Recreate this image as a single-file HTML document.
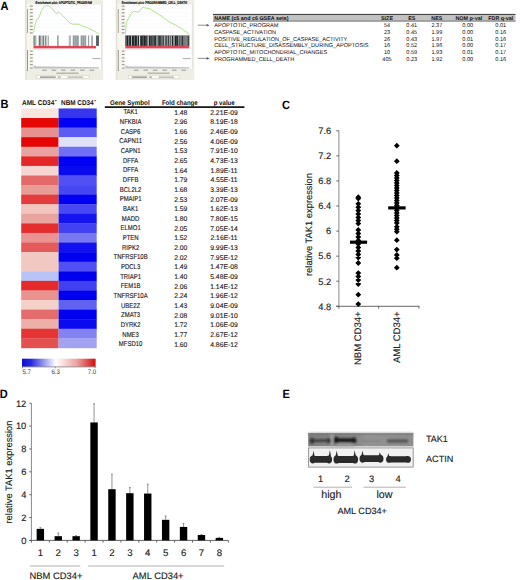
<!DOCTYPE html>
<html><head><meta charset="utf-8"><style>
html,body{margin:0;padding:0;background:#fff;}
svg{display:block;}
text{font-family:"Liberation Sans", sans-serif;text-rendering:geometricPrecision;}
</style></head><body>
<svg width="520" height="580" viewBox="0 0 520 580">
<rect width="520" height="580" fill="#fff"/>
<text x="0.00" y="0.00" font-size="12.0" text-anchor="start" font-weight="bold" fill="#000" transform="translate(0.5 9.9) scale(0.92 1)">A</text>
<text x="0.00" y="0.00" font-size="12.0" text-anchor="start" font-weight="bold" fill="#000" transform="translate(0.5 107.9) scale(0.92 1)">B</text>
<text x="0.00" y="0.00" font-size="12.0" text-anchor="start" font-weight="bold" fill="#000" transform="translate(282.1 108.5) scale(0.92 1)">C</text>
<text x="0.00" y="0.00" font-size="12.0" text-anchor="start" font-weight="bold" fill="#000" transform="translate(-0.2 398.0) scale(0.92 1)">D</text>
<text x="0.00" y="0.00" font-size="12.0" text-anchor="start" font-weight="bold" fill="#000" transform="translate(282.6 397.8) scale(0.92 1)">E</text>
<rect x="25.1" y="0" width="78.1" height="80" fill="#efeee4"/>
<rect x="25.1" y="0" width="1.6" height="80" fill="#e3e1d2"/>
<rect x="26.700000000000003" y="3.6" width="6.799999999999999" height="66" fill="#f7f6ee"/>
<text x="35.60" y="4.10" font-size="3.9" text-anchor="start" font-weight="bold" fill="#000" stroke="#000" stroke-width="0.12" textLength="56.2" lengthAdjust="spacingAndGlyphs">Enrichment plot: APOPTOTIC_PROGRAM</text>
<rect x="33.5" y="4.6" width="68.3" height="64" fill="#ffffff"/>
<rect x="101.2" y="4.6" width="0.6" height="64" fill="#d0d0cc"/>
<rect x="27.1" y="9" width="0.9" height="24" fill="#9a9a92"/>
<rect x="27.1" y="50" width="0.9" height="21" fill="#8a8a82"/>
<rect x="29.9" y="5.6" width="2.8" height="1.0" fill="#8c8c86"/>
<rect x="29.9" y="8.9" width="2.8" height="1.0" fill="#8c8c86"/>
<rect x="29.9" y="12.3" width="2.8" height="1.0" fill="#8c8c86"/>
<rect x="29.9" y="15.7" width="2.8" height="1.0" fill="#8c8c86"/>
<rect x="29.9" y="19.0" width="2.8" height="1.0" fill="#8c8c86"/>
<rect x="29.9" y="22.4" width="2.8" height="1.0" fill="#8c8c86"/>
<rect x="29.9" y="25.7" width="2.8" height="1.0" fill="#8c8c86"/>
<rect x="29.9" y="29.0" width="2.8" height="1.0" fill="#8c8c86"/>
<rect x="29.9" y="32.4" width="2.8" height="1.0" fill="#8c8c86"/>
<rect x="30.1" y="50.6" width="2.6" height="1.0" fill="#8c8c86"/>
<rect x="30.1" y="54.0" width="2.6" height="1.0" fill="#8c8c86"/>
<rect x="30.1" y="57.4" width="2.6" height="1.0" fill="#8c8c86"/>
<rect x="30.1" y="60.8" width="2.6" height="1.0" fill="#8c8c86"/>
<rect x="30.1" y="64.2" width="2.6" height="1.0" fill="#8c8c86"/>
<rect x="30.1" y="67.6" width="2.6" height="1.0" fill="#8c8c86"/>
<line x1="33.5" y1="8.8" x2="99.0" y2="8.8" stroke="#f3f4f8" stroke-width="0.5"/>
<line x1="33.5" y1="12.5" x2="99.0" y2="12.5" stroke="#f3f4f8" stroke-width="0.5"/>
<line x1="33.5" y1="16.2" x2="99.0" y2="16.2" stroke="#f3f4f8" stroke-width="0.5"/>
<line x1="33.5" y1="20.0" x2="99.0" y2="20.0" stroke="#f3f4f8" stroke-width="0.5"/>
<line x1="33.5" y1="23.8" x2="99.0" y2="23.8" stroke="#f3f4f8" stroke-width="0.5"/>
<line x1="33.5" y1="27.5" x2="99.0" y2="27.5" stroke="#f3f4f8" stroke-width="0.5"/>
<line x1="33.5" y1="31.2" x2="99.0" y2="31.2" stroke="#f3f4f8" stroke-width="0.5"/>
<polyline points="33.5,32.5 34.8,26.0 36.4,20.0 39.0,17.3 41.6,10.4 44.2,6.2 46.5,5.6 49.4,6.0 52.9,9.5 56.3,13.6 58.9,12.1 61.5,14.7 65.8,19.0 70.2,23.2 72.8,24.2 78.8,24.2 82.3,26.0 87.5,27.7 92.7,30.3 96.5,32.5 99.0,34.0" fill="none" stroke="#a6e27e" stroke-width="0.9" stroke-linejoin="round"/>
<rect x="33.5" y="35.5" width="65.5" height="10.4" fill="#ffffff"/>
<rect x="33.3" y="35.5" width="2.4" height="10.4" fill="#8c9492"/>
<rect x="38.7" y="35.5" width="2.0" height="10.4" fill="#6c7474"/>
<rect x="42.4" y="35.5" width="1.7" height="10.4" fill="#7a8282"/>
<rect x="44.8" y="35.5" width="1.7" height="10.4" fill="#869090"/>
<rect x="47.8" y="35.5" width="1.0" height="10.4" fill="#9aa2a2"/>
<rect x="57.2" y="35.5" width="1.4" height="10.4" fill="#8a9292"/>
<rect x="68.7" y="35.5" width="2.3" height="10.4" fill="#b4baba"/>
<rect x="72.7" y="35.5" width="6.1" height="10.4" fill="#aab2b2"/>
<rect x="80.5" y="35.5" width="5.7" height="10.4" fill="#acb4b4"/>
<rect x="87.9" y="35.5" width="1.3" height="10.4" fill="#9aa2a2"/>
<rect x="91.2" y="35.5" width="1.7" height="10.4" fill="#a0a8a8"/>
<rect x="96.0" y="35.5" width="3.0" height="10.4" fill="#5c6464"/>
<rect x="73.4" y="35.5" width="0.7" height="10.4" fill="#7e8686"/>
<rect x="75.6" y="35.5" width="0.7" height="10.4" fill="#848c8c"/>
<rect x="77.6" y="35.5" width="0.7" height="10.4" fill="#7e8686"/>
<rect x="81.4" y="35.5" width="0.7" height="10.4" fill="#848c8c"/>
<rect x="83.4" y="35.5" width="0.7" height="10.4" fill="#7e8686"/>
<rect x="85.3" y="35.5" width="0.7" height="10.4" fill="#8a9292"/>
<rect x="36.3" y="35.5" width="0.8" height="10.4" fill="#c8d0cc"/>
<rect x="41.0" y="35.5" width="0.9" height="10.4" fill="#c0c8c4"/>
<rect x="46.6" y="35.5" width="0.9" height="10.4" fill="#c8d0cc"/>
<rect x="33.5" y="45.9" width="62.5" height="2.5" fill="#dc4657"/>
<rect x="33.5" y="48.4" width="23" height="0.9" fill="#f3b6bf"/>
<defs><linearGradient id="lg25" x1="0" x2="0" y1="0" y2="1"><stop offset="0" stop-color="#d8d8dc"/><stop offset="1" stop-color="#b8b8bc"/></linearGradient></defs>
<path d="M33.5,64.8 L36.5,66.2 L99.0,67.2 L99.0,68.6 L33.5,68.6 Z" fill="url(#lg25)"/>
<rect x="92.5" y="58.0" width="8" height="1.1" fill="#b4b4b0"/>
<rect x="42.1" y="69.6" width="4.6" height="1.2" fill="#a6a69c"/>
<rect x="51.6" y="69.6" width="4.6" height="1.2" fill="#a6a69c"/>
<rect x="61.1" y="69.6" width="4.6" height="1.2" fill="#a6a69c"/>
<rect x="70.6" y="69.6" width="4.6" height="1.2" fill="#a6a69c"/>
<rect x="80.1" y="69.6" width="4.6" height="1.2" fill="#a6a69c"/>
<rect x="89.6" y="69.6" width="4.6" height="1.2" fill="#a6a69c"/>
<rect x="56.4" y="72.6" width="22.3" height="1.2" fill="#aaaaa0"/>
<rect x="36.7" y="75.4" width="52.4" height="3.2" fill="#fbfbf8" stroke="#cfcdbf" stroke-width="0.5"/>
<rect x="40.0" y="76.6" width="15.7" height="1.0" fill="#6e6e6e"/>
<rect x="57.7" y="76.6" width="3" height="1.0" fill="#8e8e8e"/>
<rect x="67.5" y="76.6" width="15.7" height="1.0" fill="#a0a0a0"/>
<rect x="115.8" y="0" width="78.50000000000001" height="80" fill="#efeee4"/>
<rect x="115.8" y="0" width="1.6" height="80" fill="#e3e1d2"/>
<rect x="117.39999999999999" y="3.6" width="7.9" height="66" fill="#f7f6ee"/>
<text x="121.80" y="4.10" font-size="3.9" text-anchor="start" font-weight="bold" fill="#000" stroke="#000" stroke-width="0.12" textLength="65.2" lengthAdjust="spacingAndGlyphs">Enrichment plot: PROGRAMMED_CELL_DEATH</text>
<rect x="125.3" y="4.6" width="67.2" height="64" fill="#ffffff"/>
<rect x="191.9" y="4.6" width="0.6" height="64" fill="#d0d0cc"/>
<rect x="117.8" y="9" width="0.9" height="24" fill="#9a9a92"/>
<rect x="117.8" y="50" width="0.9" height="21" fill="#8a8a82"/>
<rect x="121.7" y="5.6" width="2.8" height="1.0" fill="#8c8c86"/>
<rect x="121.7" y="8.9" width="2.8" height="1.0" fill="#8c8c86"/>
<rect x="121.7" y="12.3" width="2.8" height="1.0" fill="#8c8c86"/>
<rect x="121.7" y="15.7" width="2.8" height="1.0" fill="#8c8c86"/>
<rect x="121.7" y="19.0" width="2.8" height="1.0" fill="#8c8c86"/>
<rect x="121.7" y="22.4" width="2.8" height="1.0" fill="#8c8c86"/>
<rect x="121.7" y="25.7" width="2.8" height="1.0" fill="#8c8c86"/>
<rect x="121.7" y="29.0" width="2.8" height="1.0" fill="#8c8c86"/>
<rect x="121.7" y="32.4" width="2.8" height="1.0" fill="#8c8c86"/>
<rect x="121.89999999999999" y="50.6" width="2.6" height="1.0" fill="#8c8c86"/>
<rect x="121.89999999999999" y="54.0" width="2.6" height="1.0" fill="#8c8c86"/>
<rect x="121.89999999999999" y="57.4" width="2.6" height="1.0" fill="#8c8c86"/>
<rect x="121.89999999999999" y="60.8" width="2.6" height="1.0" fill="#8c8c86"/>
<rect x="121.89999999999999" y="64.2" width="2.6" height="1.0" fill="#8c8c86"/>
<rect x="121.89999999999999" y="67.6" width="2.6" height="1.0" fill="#8c8c86"/>
<line x1="125.3" y1="8.8" x2="189.3" y2="8.8" stroke="#f3f4f8" stroke-width="0.5"/>
<line x1="125.3" y1="12.5" x2="189.3" y2="12.5" stroke="#f3f4f8" stroke-width="0.5"/>
<line x1="125.3" y1="16.2" x2="189.3" y2="16.2" stroke="#f3f4f8" stroke-width="0.5"/>
<line x1="125.3" y1="20.0" x2="189.3" y2="20.0" stroke="#f3f4f8" stroke-width="0.5"/>
<line x1="125.3" y1="23.8" x2="189.3" y2="23.8" stroke="#f3f4f8" stroke-width="0.5"/>
<line x1="125.3" y1="27.5" x2="189.3" y2="27.5" stroke="#f3f4f8" stroke-width="0.5"/>
<line x1="125.3" y1="31.2" x2="189.3" y2="31.2" stroke="#f3f4f8" stroke-width="0.5"/>
<polyline points="125.4,33.7 126.4,22.5 129.0,17.3 131.6,13.0 134.2,11.2 137.7,12.1 140.3,10.4 142.9,6.9 144.6,7.8 149.8,8.7 155.0,12.1 161.9,16.4 168.8,21.6 175.7,25.1 182.7,29.4 189.6,34.6" fill="none" stroke="#a6e27e" stroke-width="0.9" stroke-linejoin="round"/>
<rect x="125.3" y="35.5" width="64.0" height="10.4" fill="#1e2222"/>
<rect x="125.4" y="35.5" width="1.2" height="10.4" fill="#7c8484"/>
<rect x="128.1" y="35.5" width="1.2" height="10.4" fill="#7c8484"/>
<rect x="131.2" y="35.5" width="0.7" height="10.4" fill="#eef0f0"/>
<rect x="133.8" y="35.5" width="1.2" height="10.4" fill="#5c6464"/>
<rect x="136.9" y="35.5" width="0.7" height="10.4" fill="#d0d4d4"/>
<rect x="139.1" y="35.5" width="0.9" height="10.4" fill="#eef0f0"/>
<rect x="140.6" y="35.5" width="0.5" height="10.4" fill="#7c8484"/>
<rect x="142.6" y="35.5" width="1.2" height="10.4" fill="#5c6464"/>
<rect x="145.7" y="35.5" width="0.7" height="10.4" fill="#7c8484"/>
<rect x="147.0" y="35.5" width="0.5" height="10.4" fill="#d0d4d4"/>
<rect x="148.1" y="35.5" width="0.7" height="10.4" fill="#eef0f0"/>
<rect x="150.7" y="35.5" width="0.5" height="10.4" fill="#bcc2c2"/>
<rect x="152.4" y="35.5" width="1.2" height="10.4" fill="#7c8484"/>
<rect x="154.5" y="35.5" width="0.7" height="10.4" fill="#5c6464"/>
<rect x="156.4" y="35.5" width="1.2" height="10.4" fill="#d0d4d4"/>
<rect x="158.2" y="35.5" width="1.2" height="10.4" fill="#5c6464"/>
<rect x="160.6" y="35.5" width="1.2" height="10.4" fill="#7c8484"/>
<rect x="162.4" y="35.5" width="0.9" height="10.4" fill="#9aa2a2"/>
<rect x="164.2" y="35.5" width="0.9" height="10.4" fill="#d0d4d4"/>
<rect x="165.7" y="35.5" width="0.5" height="10.4" fill="#bcc2c2"/>
<rect x="166.8" y="35.5" width="0.9" height="10.4" fill="#bcc2c2"/>
<rect x="168.3" y="35.5" width="0.5" height="10.4" fill="#5c6464"/>
<rect x="169.4" y="35.5" width="0.7" height="10.4" fill="#eef0f0"/>
<rect x="170.7" y="35.5" width="1.2" height="10.4" fill="#bcc2c2"/>
<rect x="173.4" y="35.5" width="1.2" height="10.4" fill="#d0d4d4"/>
<rect x="176.5" y="35.5" width="0.7" height="10.4" fill="#5c6464"/>
<rect x="178.4" y="35.5" width="0.9" height="10.4" fill="#d0d4d4"/>
<rect x="180.5" y="35.5" width="0.9" height="10.4" fill="#d0d4d4"/>
<rect x="182.9" y="35.5" width="0.5" height="10.4" fill="#eef0f0"/>
<rect x="184.3" y="35.5" width="0.5" height="10.4" fill="#d0d4d4"/>
<rect x="185.4" y="35.5" width="1.2" height="10.4" fill="#bcc2c2"/>
<rect x="187.5" y="35.5" width="0.7" height="10.4" fill="#bcc2c2"/>
<rect x="125.3" y="45.9" width="64" height="2.5" fill="#dc4657"/>
<rect x="125.3" y="48.4" width="22" height="0.9" fill="#f3b6bf"/>
<defs><linearGradient id="lg115" x1="0" x2="0" y1="0" y2="1"><stop offset="0" stop-color="#d8d8dc"/><stop offset="1" stop-color="#b8b8bc"/></linearGradient></defs>
<path d="M125.3,64.8 L128.3,66.2 L189.3,67.2 L189.3,68.6 L125.3,68.6 Z" fill="url(#lg115)"/>
<rect x="182.8" y="58.0" width="8" height="1.1" fill="#b4b4b0"/>
<rect x="133.9" y="69.6" width="4.6" height="1.2" fill="#a6a69c"/>
<rect x="143.4" y="69.6" width="4.6" height="1.2" fill="#a6a69c"/>
<rect x="152.9" y="69.6" width="4.6" height="1.2" fill="#a6a69c"/>
<rect x="162.4" y="69.6" width="4.6" height="1.2" fill="#a6a69c"/>
<rect x="171.9" y="69.6" width="4.6" height="1.2" fill="#a6a69c"/>
<rect x="181.4" y="69.6" width="4.6" height="1.2" fill="#a6a69c"/>
<rect x="147.7" y="72.6" width="21.8" height="1.2" fill="#aaaaa0"/>
<rect x="128.5" y="75.4" width="51.2" height="3.2" fill="#fbfbf8" stroke="#cfcdbf" stroke-width="0.5"/>
<rect x="131.8" y="76.6" width="15.4" height="1.0" fill="#6e6e6e"/>
<rect x="149.1" y="76.6" width="3" height="1.0" fill="#8e8e8e"/>
<rect x="158.7" y="76.6" width="15.4" height="1.0" fill="#a0a0a0"/>
<line x1="197.8" y1="25.2" x2="207.5" y2="25.2" stroke="#555" stroke-width="0.65"/>
<path d="M206.6,23.9 L209.6,25.2 L206.6,26.5Z" fill="#555"/>
<line x1="197.8" y1="58.4" x2="207.5" y2="58.4" stroke="#555" stroke-width="0.65"/>
<path d="M206.6,57.1 L209.6,58.4 L206.6,59.699999999999996Z" fill="#555"/>
<rect x="213" y="14.6" width="302.5" height="6.4" fill="#c2c2c2"/>
<rect x="213" y="13.9" width="302.5" height="1.1" fill="#444"/>
<rect x="213" y="20.7" width="302.5" height="0.8" fill="#555"/>
<text x="214.20" y="19.90" font-size="5.4" text-anchor="start" font-weight="bold" fill="#111" >NAME (c5 and c6 GSEA sets)</text>
<text x="387.00" y="19.90" font-size="5.4" text-anchor="middle" font-weight="bold" fill="#111" >SIZE</text>
<text x="411.80" y="19.90" font-size="5.4" text-anchor="middle" font-weight="bold" fill="#111" >ES</text>
<text x="436.90" y="19.90" font-size="5.4" text-anchor="middle" font-weight="bold" fill="#111" >NES</text>
<text x="468.80" y="19.90" font-size="5.4" text-anchor="middle" font-weight="bold" fill="#111" >NOM p-val</text>
<text x="500.80" y="19.90" font-size="5.4" text-anchor="middle" font-weight="bold" fill="#111" >FDR q-val</text>
<text x="214.20" y="27.20" font-size="5.6" text-anchor="start" font-weight="normal" fill="#111" >APOPTOTIC_PROGRAM</text>
<text x="387.00" y="27.20" font-size="5.6" text-anchor="middle" font-weight="normal" fill="#111" >54</text>
<text x="411.80" y="27.20" font-size="5.6" text-anchor="middle" font-weight="normal" fill="#111" >0.41</text>
<text x="436.90" y="27.20" font-size="5.6" text-anchor="middle" font-weight="normal" fill="#111" >2.37</text>
<text x="467.70" y="27.20" font-size="5.6" text-anchor="middle" font-weight="normal" fill="#111" >0.00</text>
<text x="500.80" y="27.20" font-size="5.6" text-anchor="middle" font-weight="normal" fill="#111" >0.01</text>
<text x="214.20" y="33.86" font-size="5.6" text-anchor="start" font-weight="normal" fill="#111" >CASPASE_ACTIVATION</text>
<text x="387.00" y="33.86" font-size="5.6" text-anchor="middle" font-weight="normal" fill="#111" >23</text>
<text x="411.80" y="33.86" font-size="5.6" text-anchor="middle" font-weight="normal" fill="#111" >0.45</text>
<text x="436.90" y="33.86" font-size="5.6" text-anchor="middle" font-weight="normal" fill="#111" >1.99</text>
<text x="467.70" y="33.86" font-size="5.6" text-anchor="middle" font-weight="normal" fill="#111" >0.00</text>
<text x="500.80" y="33.86" font-size="5.6" text-anchor="middle" font-weight="normal" fill="#111" >0.16</text>
<text x="214.20" y="40.52" font-size="5.6" text-anchor="start" font-weight="normal" fill="#111" >POSITIVE_REGULATION_OF_CASPASE_ACTIVITY</text>
<text x="387.00" y="40.52" font-size="5.6" text-anchor="middle" font-weight="normal" fill="#111" >26</text>
<text x="411.80" y="40.52" font-size="5.6" text-anchor="middle" font-weight="normal" fill="#111" >0.43</text>
<text x="436.90" y="40.52" font-size="5.6" text-anchor="middle" font-weight="normal" fill="#111" >1.97</text>
<text x="467.70" y="40.52" font-size="5.6" text-anchor="middle" font-weight="normal" fill="#111" >0.01</text>
<text x="500.80" y="40.52" font-size="5.6" text-anchor="middle" font-weight="normal" fill="#111" >0.16</text>
<text x="214.20" y="47.18" font-size="5.6" text-anchor="start" font-weight="normal" fill="#111" >CELL_STRUCTURE_DISASSEMBLY_DURING_APOPTOSIS</text>
<text x="387.00" y="47.18" font-size="5.6" text-anchor="middle" font-weight="normal" fill="#111" >16</text>
<text x="411.80" y="47.18" font-size="5.6" text-anchor="middle" font-weight="normal" fill="#111" >0.52</text>
<text x="436.90" y="47.18" font-size="5.6" text-anchor="middle" font-weight="normal" fill="#111" >1.96</text>
<text x="467.70" y="47.18" font-size="5.6" text-anchor="middle" font-weight="normal" fill="#111" >0.00</text>
<text x="500.80" y="47.18" font-size="5.6" text-anchor="middle" font-weight="normal" fill="#111" >0.17</text>
<text x="214.20" y="53.84" font-size="5.6" text-anchor="start" font-weight="normal" fill="#111" >APOPTOTIC_MITOCHONDRIAL_CHANGES</text>
<text x="387.00" y="53.84" font-size="5.6" text-anchor="middle" font-weight="normal" fill="#111" >10</text>
<text x="411.80" y="53.84" font-size="5.6" text-anchor="middle" font-weight="normal" fill="#111" >0.59</text>
<text x="436.90" y="53.84" font-size="5.6" text-anchor="middle" font-weight="normal" fill="#111" >1.93</text>
<text x="467.70" y="53.84" font-size="5.6" text-anchor="middle" font-weight="normal" fill="#111" >0.01</text>
<text x="500.80" y="53.84" font-size="5.6" text-anchor="middle" font-weight="normal" fill="#111" >0.17</text>
<text x="214.20" y="60.50" font-size="5.6" text-anchor="start" font-weight="normal" fill="#111" >PROGRAMMED_CELL_DEATH</text>
<text x="387.00" y="60.50" font-size="5.6" text-anchor="middle" font-weight="normal" fill="#111" >405</text>
<text x="411.80" y="60.50" font-size="5.6" text-anchor="middle" font-weight="normal" fill="#111" >0.23</text>
<text x="436.90" y="60.50" font-size="5.6" text-anchor="middle" font-weight="normal" fill="#111" >1.92</text>
<text x="467.70" y="60.50" font-size="5.6" text-anchor="middle" font-weight="normal" fill="#111" >0.00</text>
<text x="500.80" y="60.50" font-size="5.6" text-anchor="middle" font-weight="normal" fill="#111" >0.16</text>
<text x="22.00" y="105.00" font-size="7.0" text-anchor="start" font-weight="bold" fill="#111" textLength="32.3" lengthAdjust="spacingAndGlyphs">AML CD34</text>
<text x="54.70" y="102.00" font-size="3.6" text-anchor="start" font-weight="bold" fill="#111" >+</text>
<text x="61.10" y="105.00" font-size="7.0" text-anchor="start" font-weight="bold" fill="#111" textLength="32.5" lengthAdjust="spacingAndGlyphs">NBM CD34</text>
<text x="94.00" y="102.00" font-size="3.6" text-anchor="start" font-weight="bold" fill="#111" >+</text>
<rect x="21.2" y="108.45" width="37.4" height="9.88" fill="#fae4e0"/>
<rect x="58.6" y="108.45" width="38.1" height="9.88" fill="#3636ee"/>
<rect x="21.2" y="118.03" width="37.4" height="9.88" fill="#e60606"/>
<rect x="58.6" y="118.03" width="38.1" height="9.88" fill="#0000f2"/>
<rect x="21.2" y="127.61" width="37.4" height="9.88" fill="#e89090"/>
<rect x="58.6" y="127.61" width="38.1" height="9.88" fill="#5c5cf4"/>
<rect x="21.2" y="137.18" width="37.4" height="9.88" fill="#e40404"/>
<rect x="58.6" y="137.18" width="38.1" height="9.88" fill="#e0e0f8"/>
<rect x="21.2" y="146.76" width="37.4" height="9.88" fill="#eaa2a0"/>
<rect x="58.6" y="146.76" width="38.1" height="9.88" fill="#7070f4"/>
<rect x="21.2" y="156.34" width="37.4" height="9.88" fill="#e42828"/>
<rect x="58.6" y="156.34" width="38.1" height="9.88" fill="#0000f2"/>
<rect x="21.2" y="165.92" width="37.4" height="9.88" fill="#f7d6d2"/>
<rect x="58.6" y="165.92" width="38.1" height="9.88" fill="#0a0af0"/>
<rect x="21.2" y="175.50" width="37.4" height="9.88" fill="#e46a6a"/>
<rect x="58.6" y="175.50" width="38.1" height="9.88" fill="#5050f4"/>
<rect x="21.2" y="185.07" width="37.4" height="9.88" fill="#e89c96"/>
<rect x="58.6" y="185.07" width="38.1" height="9.88" fill="#4646f2"/>
<rect x="21.2" y="194.65" width="37.4" height="9.88" fill="#e43c3c"/>
<rect x="58.6" y="194.65" width="38.1" height="9.88" fill="#0000f2"/>
<rect x="21.2" y="204.23" width="37.4" height="9.88" fill="#f1c4be"/>
<rect x="58.6" y="204.23" width="38.1" height="9.88" fill="#4848f4"/>
<rect x="21.2" y="213.81" width="37.4" height="9.88" fill="#e9a4a0"/>
<rect x="58.6" y="213.81" width="38.1" height="9.88" fill="#1414f0"/>
<rect x="21.2" y="223.39" width="37.4" height="9.88" fill="#e42e2e"/>
<rect x="58.6" y="223.39" width="38.1" height="9.88" fill="#4242f2"/>
<rect x="21.2" y="232.96" width="37.4" height="9.88" fill="#e99492"/>
<rect x="58.6" y="232.96" width="38.1" height="9.88" fill="#7878f2"/>
<rect x="21.2" y="242.54" width="37.4" height="9.88" fill="#e45a5a"/>
<rect x="58.6" y="242.54" width="38.1" height="9.88" fill="#1010f0"/>
<rect x="21.2" y="252.12" width="37.4" height="9.88" fill="#f1c9c2"/>
<rect x="58.6" y="252.12" width="38.1" height="9.88" fill="#0000f0"/>
<rect x="21.2" y="261.70" width="37.4" height="9.88" fill="#f1c9c2"/>
<rect x="58.6" y="261.70" width="38.1" height="9.88" fill="#5050f4"/>
<rect x="21.2" y="271.28" width="37.4" height="9.88" fill="#b8c4f8"/>
<rect x="58.6" y="271.28" width="38.1" height="9.88" fill="#0000ee"/>
<rect x="21.2" y="280.85" width="37.4" height="9.88" fill="#e62a2a"/>
<rect x="58.6" y="280.85" width="38.1" height="9.88" fill="#4040f2"/>
<rect x="21.2" y="290.43" width="37.4" height="9.88" fill="#e99290"/>
<rect x="58.6" y="290.43" width="38.1" height="9.88" fill="#0000f0"/>
<rect x="21.2" y="300.01" width="37.4" height="9.88" fill="#f3d0c8"/>
<rect x="58.6" y="300.01" width="38.1" height="9.88" fill="#6262f2"/>
<rect x="21.2" y="309.59" width="37.4" height="9.88" fill="#e46c6c"/>
<rect x="58.6" y="309.59" width="38.1" height="9.88" fill="#0000f0"/>
<rect x="21.2" y="319.17" width="37.4" height="9.88" fill="#ecb0a8"/>
<rect x="58.6" y="319.17" width="38.1" height="9.88" fill="#0a0af0"/>
<rect x="21.2" y="328.74" width="37.4" height="9.88" fill="#e43434"/>
<rect x="58.6" y="328.74" width="38.1" height="9.88" fill="#8282f2"/>
<rect x="21.2" y="338.32" width="37.4" height="9.88" fill="#e45050"/>
<rect x="58.6" y="338.32" width="38.1" height="9.88" fill="#a2a2f2"/>
<defs><linearGradient id="cb" x1="0" x2="1" y1="0" y2="0"><stop offset="0" stop-color="#0c0cd8"/><stop offset="0.12" stop-color="#2828e0"/><stop offset="0.46" stop-color="#ffffff"/><stop offset="0.75" stop-color="#eaa0a0"/><stop offset="1" stop-color="#d40c0c"/></linearGradient></defs>
<rect x="22" y="358.7" width="73.6" height="8" fill="url(#cb)"/>
<line x1="22" y1="366.9" x2="95.6" y2="366.9" stroke="#555" stroke-width="0.6"/>
<line x1="22.4" y1="366.9" x2="22.4" y2="368.3" stroke="#555" stroke-width="0.6"/>
<line x1="55.4" y1="366.9" x2="55.4" y2="368.3" stroke="#555" stroke-width="0.6"/>
<line x1="95.2" y1="366.9" x2="95.2" y2="368.3" stroke="#555" stroke-width="0.6"/>
<text x="0.00" y="0.00" font-size="6.6" text-anchor="start" font-weight="normal" fill="#333" transform="translate(22.4 374.4) scale(0.92 1)">5.7</text>
<text x="0.00" y="0.00" font-size="6.6" text-anchor="middle" font-weight="normal" fill="#333" transform="translate(55.7 374.4) scale(0.92 1)">6.3</text>
<text x="0.00" y="0.00" font-size="6.6" text-anchor="end" font-weight="normal" fill="#333" transform="translate(96.1 374.4) scale(0.92 1)">7.0</text>
<rect x="104.8" y="106.3" width="139.6" height="1.6" fill="#000"/>
<text x="129.80" y="104.50" font-size="6.8" text-anchor="middle" font-weight="bold" fill="#111" textLength="39.6" lengthAdjust="spacingAndGlyphs">Gene Symbol</text>
<text x="179.80" y="104.50" font-size="6.8" text-anchor="middle" font-weight="bold" fill="#111" textLength="35.8" lengthAdjust="spacingAndGlyphs">Fold change</text>
<text x="224.20" y="104.50" font-size="6.8" text-anchor="middle" font-weight="bold" fill="#111" textLength="21.1" lengthAdjust="spacingAndGlyphs">p value</text>
<text x="0.00" y="0.00" font-size="7.0" text-anchor="middle" font-weight="normal" fill="#222" stroke="#222" stroke-width="0.15" transform="translate(130.6 114.45) scale(0.85 1)">TAK1</text>
<text x="180.80" y="114.60" font-size="6.8" text-anchor="middle" font-weight="normal" fill="#222" stroke="#222" stroke-width="0.12">1.48</text>
<text x="224.00" y="114.60" font-size="6.8" text-anchor="middle" font-weight="normal" fill="#222" stroke="#222" stroke-width="0.12">2.21E-09</text>
<text x="0.00" y="0.00" font-size="7.0" text-anchor="middle" font-weight="normal" fill="#222" stroke="#222" stroke-width="0.15" transform="translate(130.6 124.12) scale(0.85 1)">NFKBIA</text>
<text x="180.80" y="124.27" font-size="6.8" text-anchor="middle" font-weight="normal" fill="#222" stroke="#222" stroke-width="0.12">2.96</text>
<text x="224.00" y="124.27" font-size="6.8" text-anchor="middle" font-weight="normal" fill="#222" stroke="#222" stroke-width="0.12">8.19E-18</text>
<text x="0.00" y="0.00" font-size="7.0" text-anchor="middle" font-weight="normal" fill="#222" stroke="#222" stroke-width="0.15" transform="translate(130.6 133.78) scale(0.85 1)">CASP6</text>
<text x="180.80" y="133.93" font-size="6.8" text-anchor="middle" font-weight="normal" fill="#222" stroke="#222" stroke-width="0.12">1.66</text>
<text x="224.00" y="133.93" font-size="6.8" text-anchor="middle" font-weight="normal" fill="#222" stroke="#222" stroke-width="0.12">2.46E-09</text>
<text x="0.00" y="0.00" font-size="7.0" text-anchor="middle" font-weight="normal" fill="#222" stroke="#222" stroke-width="0.15" transform="translate(130.6 143.44) scale(0.85 1)">CAPN11</text>
<text x="180.80" y="143.59" font-size="6.8" text-anchor="middle" font-weight="normal" fill="#222" stroke="#222" stroke-width="0.12">2.56</text>
<text x="224.00" y="143.59" font-size="6.8" text-anchor="middle" font-weight="normal" fill="#222" stroke="#222" stroke-width="0.12">4.06E-09</text>
<text x="0.00" y="0.00" font-size="7.0" text-anchor="middle" font-weight="normal" fill="#222" stroke="#222" stroke-width="0.15" transform="translate(130.6 153.11) scale(0.85 1)">CAPN1</text>
<text x="180.80" y="153.26" font-size="6.8" text-anchor="middle" font-weight="normal" fill="#222" stroke="#222" stroke-width="0.12">1.53</text>
<text x="224.00" y="153.26" font-size="6.8" text-anchor="middle" font-weight="normal" fill="#222" stroke="#222" stroke-width="0.12">7.91E-10</text>
<text x="0.00" y="0.00" font-size="7.0" text-anchor="middle" font-weight="normal" fill="#222" stroke="#222" stroke-width="0.15" transform="translate(130.6 162.78) scale(0.85 1)">DFFA</text>
<text x="180.80" y="162.93" font-size="6.8" text-anchor="middle" font-weight="normal" fill="#222" stroke="#222" stroke-width="0.12">2.65</text>
<text x="224.00" y="162.93" font-size="6.8" text-anchor="middle" font-weight="normal" fill="#222" stroke="#222" stroke-width="0.12">4.73E-13</text>
<text x="0.00" y="0.00" font-size="7.0" text-anchor="middle" font-weight="normal" fill="#222" stroke="#222" stroke-width="0.15" transform="translate(130.6 172.44) scale(0.85 1)">DFFA</text>
<text x="180.80" y="172.59" font-size="6.8" text-anchor="middle" font-weight="normal" fill="#222" stroke="#222" stroke-width="0.12">1.64</text>
<text x="224.00" y="172.59" font-size="6.8" text-anchor="middle" font-weight="normal" fill="#222" stroke="#222" stroke-width="0.12">1.89E-11</text>
<text x="0.00" y="0.00" font-size="7.0" text-anchor="middle" font-weight="normal" fill="#222" stroke="#222" stroke-width="0.15" transform="translate(130.6 182.11) scale(0.85 1)">DFFB</text>
<text x="180.80" y="182.26" font-size="6.8" text-anchor="middle" font-weight="normal" fill="#222" stroke="#222" stroke-width="0.12">1.79</text>
<text x="224.00" y="182.26" font-size="6.8" text-anchor="middle" font-weight="normal" fill="#222" stroke="#222" stroke-width="0.12">4.55E-11</text>
<text x="0.00" y="0.00" font-size="7.0" text-anchor="middle" font-weight="normal" fill="#222" stroke="#222" stroke-width="0.15" transform="translate(130.6 191.77) scale(0.85 1)">BCL2L2</text>
<text x="180.80" y="191.92" font-size="6.8" text-anchor="middle" font-weight="normal" fill="#222" stroke="#222" stroke-width="0.12">1.68</text>
<text x="224.00" y="191.92" font-size="6.8" text-anchor="middle" font-weight="normal" fill="#222" stroke="#222" stroke-width="0.12">3.39E-13</text>
<text x="0.00" y="0.00" font-size="7.0" text-anchor="middle" font-weight="normal" fill="#222" stroke="#222" stroke-width="0.15" transform="translate(130.6 201.44) scale(0.85 1)">PMAIP1</text>
<text x="180.80" y="201.59" font-size="6.8" text-anchor="middle" font-weight="normal" fill="#222" stroke="#222" stroke-width="0.12">2.53</text>
<text x="224.00" y="201.59" font-size="6.8" text-anchor="middle" font-weight="normal" fill="#222" stroke="#222" stroke-width="0.12">2.07E-09</text>
<text x="0.00" y="0.00" font-size="7.0" text-anchor="middle" font-weight="normal" fill="#222" stroke="#222" stroke-width="0.15" transform="translate(130.6 211.10) scale(0.85 1)">BAK1</text>
<text x="180.80" y="211.25" font-size="6.8" text-anchor="middle" font-weight="normal" fill="#222" stroke="#222" stroke-width="0.12">1.59</text>
<text x="224.00" y="211.25" font-size="6.8" text-anchor="middle" font-weight="normal" fill="#222" stroke="#222" stroke-width="0.12">1.62E-13</text>
<text x="0.00" y="0.00" font-size="7.0" text-anchor="middle" font-weight="normal" fill="#222" stroke="#222" stroke-width="0.15" transform="translate(130.6 220.76) scale(0.85 1)">MADD</text>
<text x="180.80" y="220.91" font-size="6.8" text-anchor="middle" font-weight="normal" fill="#222" stroke="#222" stroke-width="0.12">1.80</text>
<text x="224.00" y="220.91" font-size="6.8" text-anchor="middle" font-weight="normal" fill="#222" stroke="#222" stroke-width="0.12">7.80E-15</text>
<text x="0.00" y="0.00" font-size="7.0" text-anchor="middle" font-weight="normal" fill="#222" stroke="#222" stroke-width="0.15" transform="translate(130.6 230.43) scale(0.85 1)">ELMO1</text>
<text x="180.80" y="230.58" font-size="6.8" text-anchor="middle" font-weight="normal" fill="#222" stroke="#222" stroke-width="0.12">2.05</text>
<text x="224.00" y="230.58" font-size="6.8" text-anchor="middle" font-weight="normal" fill="#222" stroke="#222" stroke-width="0.12">7.05E-14</text>
<text x="0.00" y="0.00" font-size="7.0" text-anchor="middle" font-weight="normal" fill="#222" stroke="#222" stroke-width="0.15" transform="translate(130.6 240.09) scale(0.85 1)">PTEN</text>
<text x="180.80" y="240.24" font-size="6.8" text-anchor="middle" font-weight="normal" fill="#222" stroke="#222" stroke-width="0.12">1.52</text>
<text x="224.00" y="240.24" font-size="6.8" text-anchor="middle" font-weight="normal" fill="#222" stroke="#222" stroke-width="0.12">2.16E-11</text>
<text x="0.00" y="0.00" font-size="7.0" text-anchor="middle" font-weight="normal" fill="#222" stroke="#222" stroke-width="0.15" transform="translate(130.6 249.76) scale(0.85 1)">RIPK2</text>
<text x="180.80" y="249.91" font-size="6.8" text-anchor="middle" font-weight="normal" fill="#222" stroke="#222" stroke-width="0.12">2.00</text>
<text x="224.00" y="249.91" font-size="6.8" text-anchor="middle" font-weight="normal" fill="#222" stroke="#222" stroke-width="0.12">9.99E-13</text>
<text x="0.00" y="0.00" font-size="7.0" text-anchor="middle" font-weight="normal" fill="#222" stroke="#222" stroke-width="0.15" transform="translate(130.6 259.43) scale(0.85 1)">TNFRSF10B</text>
<text x="180.80" y="259.57" font-size="6.8" text-anchor="middle" font-weight="normal" fill="#222" stroke="#222" stroke-width="0.12">2.02</text>
<text x="224.00" y="259.57" font-size="6.8" text-anchor="middle" font-weight="normal" fill="#222" stroke="#222" stroke-width="0.12">7.95E-12</text>
<text x="0.00" y="0.00" font-size="7.0" text-anchor="middle" font-weight="normal" fill="#222" stroke="#222" stroke-width="0.15" transform="translate(130.6 269.09) scale(0.85 1)">PDCL3</text>
<text x="180.80" y="269.24" font-size="6.8" text-anchor="middle" font-weight="normal" fill="#222" stroke="#222" stroke-width="0.12">1.49</text>
<text x="224.00" y="269.24" font-size="6.8" text-anchor="middle" font-weight="normal" fill="#222" stroke="#222" stroke-width="0.12">1.47E-08</text>
<text x="0.00" y="0.00" font-size="7.0" text-anchor="middle" font-weight="normal" fill="#222" stroke="#222" stroke-width="0.15" transform="translate(130.6 278.75) scale(0.85 1)">TRIAP1</text>
<text x="180.80" y="278.90" font-size="6.8" text-anchor="middle" font-weight="normal" fill="#222" stroke="#222" stroke-width="0.12">1.40</text>
<text x="224.00" y="278.90" font-size="6.8" text-anchor="middle" font-weight="normal" fill="#222" stroke="#222" stroke-width="0.12">5.48E-09</text>
<text x="0.00" y="0.00" font-size="7.0" text-anchor="middle" font-weight="normal" fill="#222" stroke="#222" stroke-width="0.15" transform="translate(130.6 288.42) scale(0.85 1)">FEM1B</text>
<text x="180.80" y="288.57" font-size="6.8" text-anchor="middle" font-weight="normal" fill="#222" stroke="#222" stroke-width="0.12">2.06</text>
<text x="224.00" y="288.57" font-size="6.8" text-anchor="middle" font-weight="normal" fill="#222" stroke="#222" stroke-width="0.12">1.14E-12</text>
<text x="0.00" y="0.00" font-size="7.0" text-anchor="middle" font-weight="normal" fill="#222" stroke="#222" stroke-width="0.15" transform="translate(130.6 298.08) scale(0.85 1)">TNFRSF10A</text>
<text x="180.80" y="298.23" font-size="6.8" text-anchor="middle" font-weight="normal" fill="#222" stroke="#222" stroke-width="0.12">2.24</text>
<text x="224.00" y="298.23" font-size="6.8" text-anchor="middle" font-weight="normal" fill="#222" stroke="#222" stroke-width="0.12">1.96E-12</text>
<text x="0.00" y="0.00" font-size="7.0" text-anchor="middle" font-weight="normal" fill="#222" stroke="#222" stroke-width="0.15" transform="translate(130.6 307.75) scale(0.85 1)">UBE2Z</text>
<text x="180.80" y="307.90" font-size="6.8" text-anchor="middle" font-weight="normal" fill="#222" stroke="#222" stroke-width="0.12">1.43</text>
<text x="224.00" y="307.90" font-size="6.8" text-anchor="middle" font-weight="normal" fill="#222" stroke="#222" stroke-width="0.12">9.04E-09</text>
<text x="0.00" y="0.00" font-size="7.0" text-anchor="middle" font-weight="normal" fill="#222" stroke="#222" stroke-width="0.15" transform="translate(130.6 317.41) scale(0.85 1)">ZMAT3</text>
<text x="180.80" y="317.56" font-size="6.8" text-anchor="middle" font-weight="normal" fill="#222" stroke="#222" stroke-width="0.12">2.08</text>
<text x="224.00" y="317.56" font-size="6.8" text-anchor="middle" font-weight="normal" fill="#222" stroke="#222" stroke-width="0.12">9.01E-10</text>
<text x="0.00" y="0.00" font-size="7.0" text-anchor="middle" font-weight="normal" fill="#222" stroke="#222" stroke-width="0.15" transform="translate(130.6 327.08) scale(0.85 1)">DYRK2</text>
<text x="180.80" y="327.23" font-size="6.8" text-anchor="middle" font-weight="normal" fill="#222" stroke="#222" stroke-width="0.12">1.72</text>
<text x="224.00" y="327.23" font-size="6.8" text-anchor="middle" font-weight="normal" fill="#222" stroke="#222" stroke-width="0.12">1.06E-09</text>
<text x="0.00" y="0.00" font-size="7.0" text-anchor="middle" font-weight="normal" fill="#222" stroke="#222" stroke-width="0.15" transform="translate(130.6 336.75) scale(0.85 1)">NME3</text>
<text x="180.80" y="336.89" font-size="6.8" text-anchor="middle" font-weight="normal" fill="#222" stroke="#222" stroke-width="0.12">1.77</text>
<text x="224.00" y="336.89" font-size="6.8" text-anchor="middle" font-weight="normal" fill="#222" stroke="#222" stroke-width="0.12">2.67E-12</text>
<text x="0.00" y="0.00" font-size="7.0" text-anchor="middle" font-weight="normal" fill="#222" stroke="#222" stroke-width="0.15" transform="translate(130.6 346.41) scale(0.85 1)">MFSD10</text>
<text x="180.80" y="346.56" font-size="6.8" text-anchor="middle" font-weight="normal" fill="#222" stroke="#222" stroke-width="0.12">1.60</text>
<text x="224.00" y="346.56" font-size="6.8" text-anchor="middle" font-weight="normal" fill="#222" stroke="#222" stroke-width="0.12">4.86E-12</text>
<line x1="338.9" y1="130.8" x2="338.9" y2="306.3" stroke="#7a7a7a" stroke-width="0.9"/>
<line x1="336.3" y1="306.3" x2="419.4" y2="306.3" stroke="#555" stroke-width="0.9"/>
<line x1="336.3" y1="306.30" x2="338.9" y2="306.30" stroke="#555" stroke-width="0.9"/>
<text x="331.20" y="309.60" font-size="9.3" text-anchor="end" font-weight="normal" fill="#222"  stroke="#222" stroke-width="0.14">4.8</text>
<line x1="336.3" y1="281.23" x2="338.9" y2="281.23" stroke="#555" stroke-width="0.9"/>
<text x="331.20" y="284.53" font-size="9.3" text-anchor="end" font-weight="normal" fill="#222"  stroke="#222" stroke-width="0.14">5.2</text>
<line x1="336.3" y1="256.16" x2="338.9" y2="256.16" stroke="#555" stroke-width="0.9"/>
<text x="331.20" y="259.46" font-size="9.3" text-anchor="end" font-weight="normal" fill="#222"  stroke="#222" stroke-width="0.14">5.6</text>
<line x1="336.3" y1="231.08" x2="338.9" y2="231.08" stroke="#555" stroke-width="0.9"/>
<text x="331.20" y="234.38" font-size="9.3" text-anchor="end" font-weight="normal" fill="#222"  stroke="#222" stroke-width="0.14">6</text>
<line x1="336.3" y1="206.01" x2="338.9" y2="206.01" stroke="#555" stroke-width="0.9"/>
<text x="331.20" y="209.31" font-size="9.3" text-anchor="end" font-weight="normal" fill="#222"  stroke="#222" stroke-width="0.14">6.4</text>
<line x1="336.3" y1="180.94" x2="338.9" y2="180.94" stroke="#555" stroke-width="0.9"/>
<text x="331.20" y="184.24" font-size="9.3" text-anchor="end" font-weight="normal" fill="#222"  stroke="#222" stroke-width="0.14">6.8</text>
<line x1="336.3" y1="155.87" x2="338.9" y2="155.87" stroke="#555" stroke-width="0.9"/>
<text x="331.20" y="159.17" font-size="9.3" text-anchor="end" font-weight="normal" fill="#222"  stroke="#222" stroke-width="0.14">7.2</text>
<line x1="336.3" y1="130.80" x2="338.9" y2="130.80" stroke="#555" stroke-width="0.9"/>
<text x="331.20" y="134.10" font-size="9.3" text-anchor="end" font-weight="normal" fill="#222"  stroke="#222" stroke-width="0.14">7.6</text>
<line x1="338.9" y1="306.3" x2="338.9" y2="308.6" stroke="#555" stroke-width="0.9"/>
<line x1="378.6" y1="306.3" x2="378.6" y2="308.6" stroke="#555" stroke-width="0.9"/>
<line x1="418.9" y1="306.3" x2="418.9" y2="308.6" stroke="#555" stroke-width="0.9"/>
<path d="M358.30,194.30 L361.20,197.20 L358.30,200.10 L355.40,197.20ZM358.30,195.70 L361.20,198.60 L358.30,201.50 L355.40,198.60ZM358.30,200.90 L361.20,203.80 L358.30,206.70 L355.40,203.80ZM358.30,204.30 L361.20,207.20 L358.30,210.10 L355.40,207.20ZM358.30,207.70 L361.20,210.60 L358.30,213.50 L355.40,210.60ZM358.30,211.10 L361.20,214.00 L358.30,216.90 L355.40,214.00ZM358.30,214.50 L361.20,217.40 L358.30,220.30 L355.40,217.40ZM358.30,217.70 L361.20,220.60 L358.30,223.50 L355.40,220.60ZM358.30,220.70 L361.20,223.60 L358.30,226.50 L355.40,223.60ZM358.30,227.10 L361.20,230.00 L358.30,232.90 L355.40,230.00ZM358.30,230.60 L361.20,233.50 L358.30,236.40 L355.40,233.50ZM358.30,234.10 L361.20,237.00 L358.30,239.90 L355.40,237.00ZM358.30,237.60 L361.20,240.50 L358.30,243.40 L355.40,240.50ZM358.30,241.10 L361.20,244.00 L358.30,246.90 L355.40,244.00ZM358.30,244.60 L361.20,247.50 L358.30,250.40 L355.40,247.50ZM358.30,248.10 L361.20,251.00 L358.30,253.90 L355.40,251.00ZM358.30,251.60 L361.20,254.50 L358.30,257.40 L355.40,254.50ZM358.30,254.60 L361.20,257.50 L358.30,260.40 L355.40,257.50ZM358.30,260.10 L361.20,263.00 L358.30,265.90 L355.40,263.00ZM358.30,270.20 L361.20,273.10 L358.30,276.00 L355.40,273.10ZM358.30,273.70 L361.20,276.60 L358.30,279.50 L355.40,276.60ZM358.30,277.20 L361.20,280.10 L358.30,283.00 L355.40,280.10ZM358.30,281.10 L361.20,284.00 L358.30,286.90 L355.40,284.00ZM358.30,291.80 L361.20,294.70 L358.30,297.60 L355.40,294.70ZM358.30,301.20 L361.20,304.10 L358.30,307.00 L355.40,304.10ZM396.80,142.80 L399.70,145.70 L396.80,148.60 L393.90,145.70ZM396.80,158.30 L399.70,161.20 L396.80,164.10 L393.90,161.20ZM396.80,170.10 L399.70,173.00 L396.80,175.90 L393.90,173.00ZM396.80,172.60 L399.70,175.50 L396.80,178.40 L393.90,175.50ZM396.80,175.10 L399.70,178.00 L396.80,180.90 L393.90,178.00ZM396.80,177.60 L399.70,180.50 L396.80,183.40 L393.90,180.50ZM396.80,180.10 L399.70,183.00 L396.80,185.90 L393.90,183.00ZM396.80,182.60 L399.70,185.50 L396.80,188.40 L393.90,185.50ZM396.80,185.10 L399.70,188.00 L396.80,190.90 L393.90,188.00ZM396.80,187.60 L399.70,190.50 L396.80,193.40 L393.90,190.50ZM396.80,190.10 L399.70,193.00 L396.80,195.90 L393.90,193.00ZM396.80,192.60 L399.70,195.50 L396.80,198.40 L393.90,195.50ZM396.80,195.10 L399.70,198.00 L396.80,200.90 L393.90,198.00ZM396.80,197.60 L399.70,200.50 L396.80,203.40 L393.90,200.50ZM396.80,200.10 L399.70,203.00 L396.80,205.90 L393.90,203.00ZM396.80,202.60 L399.70,205.50 L396.80,208.40 L393.90,205.50ZM396.80,205.10 L399.70,208.00 L396.80,210.90 L393.90,208.00ZM396.80,207.60 L399.70,210.50 L396.80,213.40 L393.90,210.50ZM396.80,210.10 L399.70,213.00 L396.80,215.90 L393.90,213.00ZM396.80,212.60 L399.70,215.50 L396.80,218.40 L393.90,215.50ZM396.80,215.10 L399.70,218.00 L396.80,220.90 L393.90,218.00ZM396.80,217.60 L399.70,220.50 L396.80,223.40 L393.90,220.50ZM396.80,220.10 L399.70,223.00 L396.80,225.90 L393.90,223.00ZM396.80,223.90 L399.70,226.80 L396.80,229.70 L393.90,226.80ZM396.80,226.40 L399.70,229.30 L396.80,232.20 L393.90,229.30ZM396.80,228.80 L399.70,231.70 L396.80,234.60 L393.90,231.70ZM396.80,237.30 L399.70,240.20 L396.80,243.10 L393.90,240.20ZM396.80,246.70 L399.70,249.60 L396.80,252.50 L393.90,249.60ZM396.80,252.10 L399.70,255.00 L396.80,257.90 L393.90,255.00ZM396.80,255.30 L399.70,258.20 L396.80,261.10 L393.90,258.20ZM396.80,264.80 L399.70,267.70 L396.80,270.60 L393.90,267.70Z" fill="#000"/>
<rect x="350" y="240.6" width="17.1" height="3.2" fill="#000"/>
<rect x="388.2" y="206.3" width="17.4" height="3.2" fill="#000"/>
<text x="0.00" y="0.00" font-size="9.35" text-anchor="middle" font-weight="normal" fill="#222" transform="translate(311.6 224.5) rotate(-90)" stroke="#222" stroke-width="0.14">relative TAK1 expression</text>
<text x="0.00" y="0.00" font-size="9.5" text-anchor="end" font-weight="normal" fill="#222" transform="translate(360.7 311.4) rotate(-90)" stroke="#222" stroke-width="0.14">NBM CD34+</text>
<text x="0.00" y="0.00" font-size="9.5" text-anchor="end" font-weight="normal" fill="#222" transform="translate(399.9 311.4) rotate(-90)" stroke="#222" stroke-width="0.14">AML CD34+</text>
<line x1="31.4" y1="403.3" x2="31.4" y2="540.4" stroke="#7a7a7a" stroke-width="0.9"/>
<line x1="29.3" y1="540.4" x2="228.3" y2="540.4" stroke="#555" stroke-width="0.9"/>
<line x1="29.3" y1="540.40" x2="31.4" y2="540.40" stroke="#555" stroke-width="0.9"/>
<text x="26.30" y="543.70" font-size="9.3" text-anchor="end" font-weight="normal" fill="#222"  stroke="#222" stroke-width="0.14">0</text>
<line x1="29.3" y1="517.54" x2="31.4" y2="517.54" stroke="#555" stroke-width="0.9"/>
<text x="26.30" y="520.84" font-size="9.3" text-anchor="end" font-weight="normal" fill="#222"  stroke="#222" stroke-width="0.14">2</text>
<line x1="29.3" y1="494.68" x2="31.4" y2="494.68" stroke="#555" stroke-width="0.9"/>
<text x="26.30" y="497.98" font-size="9.3" text-anchor="end" font-weight="normal" fill="#222"  stroke="#222" stroke-width="0.14">4</text>
<line x1="29.3" y1="471.82" x2="31.4" y2="471.82" stroke="#555" stroke-width="0.9"/>
<text x="26.30" y="475.12" font-size="9.3" text-anchor="end" font-weight="normal" fill="#222"  stroke="#222" stroke-width="0.14">6</text>
<line x1="29.3" y1="448.96" x2="31.4" y2="448.96" stroke="#555" stroke-width="0.9"/>
<text x="26.30" y="452.26" font-size="9.3" text-anchor="end" font-weight="normal" fill="#222"  stroke="#222" stroke-width="0.14">8</text>
<line x1="29.3" y1="426.10" x2="31.4" y2="426.10" stroke="#555" stroke-width="0.9"/>
<text x="26.30" y="429.40" font-size="9.3" text-anchor="end" font-weight="normal" fill="#222"  stroke="#222" stroke-width="0.14">10</text>
<line x1="29.3" y1="403.24" x2="31.4" y2="403.24" stroke="#555" stroke-width="0.9"/>
<text x="26.30" y="406.54" font-size="9.3" text-anchor="end" font-weight="normal" fill="#222"  stroke="#222" stroke-width="0.14">12</text>
<line x1="31.40" y1="540.4" x2="31.40" y2="542.6" stroke="#555" stroke-width="0.9"/>
<line x1="49.30" y1="540.4" x2="49.30" y2="542.6" stroke="#555" stroke-width="0.9"/>
<line x1="67.20" y1="540.4" x2="67.20" y2="542.6" stroke="#555" stroke-width="0.9"/>
<line x1="85.10" y1="540.4" x2="85.10" y2="542.6" stroke="#555" stroke-width="0.9"/>
<line x1="103.00" y1="540.4" x2="103.00" y2="542.6" stroke="#555" stroke-width="0.9"/>
<line x1="120.90" y1="540.4" x2="120.90" y2="542.6" stroke="#555" stroke-width="0.9"/>
<line x1="138.80" y1="540.4" x2="138.80" y2="542.6" stroke="#555" stroke-width="0.9"/>
<line x1="156.70" y1="540.4" x2="156.70" y2="542.6" stroke="#555" stroke-width="0.9"/>
<line x1="174.60" y1="540.4" x2="174.60" y2="542.6" stroke="#555" stroke-width="0.9"/>
<line x1="192.50" y1="540.4" x2="192.50" y2="542.6" stroke="#555" stroke-width="0.9"/>
<line x1="210.40" y1="540.4" x2="210.40" y2="542.6" stroke="#555" stroke-width="0.9"/>
<line x1="228.30" y1="540.4" x2="228.30" y2="542.6" stroke="#555" stroke-width="0.9"/>
<line x1="40.35" y1="527.60" x2="40.35" y2="528.86" stroke="#777" stroke-width="0.8"/>
<line x1="39.45" y1="527.60" x2="41.25" y2="527.60" stroke="#777" stroke-width="0.8"/>
<rect x="36.65" y="528.86" width="7.4" height="11.54" fill="#000"/>
<text x="40.35" y="555.80" font-size="9.6" text-anchor="middle" font-weight="normal" fill="#222"  stroke="#222" stroke-width="0.14">1</text>
<line x1="58.25" y1="532.97" x2="58.25" y2="536.17" stroke="#777" stroke-width="0.8"/>
<line x1="57.35" y1="532.97" x2="59.15" y2="532.97" stroke="#777" stroke-width="0.8"/>
<rect x="54.55" y="536.17" width="7.4" height="4.23" fill="#000"/>
<text x="58.25" y="555.80" font-size="9.6" text-anchor="middle" font-weight="normal" fill="#222"  stroke="#222" stroke-width="0.14">2</text>
<line x1="76.15" y1="535.60" x2="76.15" y2="536.17" stroke="#777" stroke-width="0.8"/>
<line x1="75.25" y1="535.60" x2="77.05" y2="535.60" stroke="#777" stroke-width="0.8"/>
<rect x="72.45" y="536.17" width="7.4" height="4.23" fill="#000"/>
<text x="76.15" y="555.80" font-size="9.6" text-anchor="middle" font-weight="normal" fill="#222"  stroke="#222" stroke-width="0.14">3</text>
<line x1="94.05" y1="403.81" x2="94.05" y2="422.44" stroke="#777" stroke-width="0.8"/>
<line x1="93.15" y1="403.81" x2="94.95" y2="403.81" stroke="#777" stroke-width="0.8"/>
<rect x="90.35" y="422.44" width="7.4" height="117.96" fill="#000"/>
<text x="94.05" y="555.80" font-size="9.6" text-anchor="middle" font-weight="normal" fill="#222"  stroke="#222" stroke-width="0.14">1</text>
<line x1="111.95" y1="474.22" x2="111.95" y2="489.19" stroke="#777" stroke-width="0.8"/>
<line x1="111.05" y1="474.22" x2="112.85" y2="474.22" stroke="#777" stroke-width="0.8"/>
<rect x="108.25" y="489.19" width="7.4" height="51.21" fill="#000"/>
<text x="111.95" y="555.80" font-size="9.6" text-anchor="middle" font-weight="normal" fill="#222"  stroke="#222" stroke-width="0.14">2</text>
<line x1="129.85" y1="487.59" x2="129.85" y2="493.19" stroke="#777" stroke-width="0.8"/>
<line x1="128.95" y1="487.59" x2="130.75" y2="487.59" stroke="#777" stroke-width="0.8"/>
<rect x="126.15" y="493.19" width="7.4" height="47.21" fill="#000"/>
<text x="129.85" y="555.80" font-size="9.6" text-anchor="middle" font-weight="normal" fill="#222"  stroke="#222" stroke-width="0.14">3</text>
<line x1="147.75" y1="484.16" x2="147.75" y2="493.54" stroke="#777" stroke-width="0.8"/>
<line x1="146.85" y1="484.16" x2="148.65" y2="484.16" stroke="#777" stroke-width="0.8"/>
<rect x="144.05" y="493.54" width="7.4" height="46.86" fill="#000"/>
<text x="147.75" y="555.80" font-size="9.6" text-anchor="middle" font-weight="normal" fill="#222"  stroke="#222" stroke-width="0.14">4</text>
<line x1="165.65" y1="515.83" x2="165.65" y2="519.83" stroke="#777" stroke-width="0.8"/>
<line x1="164.75" y1="515.83" x2="166.55" y2="515.83" stroke="#777" stroke-width="0.8"/>
<rect x="161.95" y="519.83" width="7.4" height="20.57" fill="#000"/>
<text x="165.65" y="555.80" font-size="9.6" text-anchor="middle" font-weight="normal" fill="#222"  stroke="#222" stroke-width="0.14">5</text>
<line x1="183.55" y1="523.48" x2="183.55" y2="526.91" stroke="#777" stroke-width="0.8"/>
<line x1="182.65" y1="523.48" x2="184.45" y2="523.48" stroke="#777" stroke-width="0.8"/>
<rect x="179.85" y="526.91" width="7.4" height="13.49" fill="#000"/>
<text x="183.55" y="555.80" font-size="9.6" text-anchor="middle" font-weight="normal" fill="#222"  stroke="#222" stroke-width="0.14">6</text>
<line x1="201.45" y1="534.46" x2="201.45" y2="535.03" stroke="#777" stroke-width="0.8"/>
<line x1="200.55" y1="534.46" x2="202.35" y2="534.46" stroke="#777" stroke-width="0.8"/>
<rect x="197.75" y="535.03" width="7.4" height="5.37" fill="#000"/>
<text x="201.45" y="555.80" font-size="9.6" text-anchor="middle" font-weight="normal" fill="#222"  stroke="#222" stroke-width="0.14">7</text>
<line x1="219.35" y1="537.31" x2="219.35" y2="537.89" stroke="#777" stroke-width="0.8"/>
<line x1="218.45" y1="537.31" x2="220.25" y2="537.31" stroke="#777" stroke-width="0.8"/>
<rect x="215.65" y="537.89" width="7.4" height="2.51" fill="#000"/>
<text x="219.35" y="555.80" font-size="9.6" text-anchor="middle" font-weight="normal" fill="#222"  stroke="#222" stroke-width="0.14">8</text>
<line x1="29.8" y1="566" x2="80.4" y2="566" stroke="#a8a8a8" stroke-width="0.9"/>
<line x1="88.1" y1="566" x2="224.2" y2="566" stroke="#a8a8a8" stroke-width="0.9"/>
<text x="29.60" y="578.90" font-size="9.4" text-anchor="start" font-weight="normal" fill="#222"  stroke="#222" stroke-width="0.14">NBM CD34+</text>
<text x="132.60" y="578.90" font-size="9.4" text-anchor="start" font-weight="normal" fill="#222"  stroke="#222" stroke-width="0.14">AML CD34+</text>
<text x="0.00" y="0.00" font-size="9.35" text-anchor="middle" font-weight="normal" fill="#222" transform="translate(12.2 472) rotate(-90)" stroke="#222" stroke-width="0.14">relative TAK1 expression</text>
<defs><filter id="bl" x="-20%" y="-80%" width="140%" height="260%"><feGaussianBlur stdDeviation="0.95"/></filter><filter id="bl2" x="-20%" y="-80%" width="140%" height="260%"><feGaussianBlur stdDeviation="0.5"/></filter><linearGradient id="tkbg" x1="0" x2="1" y1="0" y2="0"><stop offset="0" stop-color="#7e7e7e"/><stop offset="0.45" stop-color="#868686"/><stop offset="0.55" stop-color="#939393"/><stop offset="1" stop-color="#8e8e8e"/></linearGradient></defs>
<rect x="308.2" y="433.1" width="105.2" height="13.3" fill="url(#tkbg)"/>
<g filter="url(#bl)">
<rect x="308.2" y="433.1" width="105.2" height="1.2" fill="#6e6e6e"/>
<rect x="330.6" y="434" width="2.4" height="12" fill="#a4a4a4"/>
<rect x="335" y="443.2" width="20" height="2.8" fill="#9c9c9c"/>
<ellipse cx="312.2" cy="440.7" rx="1.9" ry="2.8" fill="#151515"/>
<ellipse cx="328.9" cy="440.6" rx="1.9" ry="2.7" fill="#151515"/>
<rect x="312" y="439.3" width="17" height="2.7" fill="#3a3a3a"/>
<ellipse cx="336.2" cy="440.2" rx="2.4" ry="3.4" fill="#0c0c0c"/>
<ellipse cx="353.9" cy="440.5" rx="2.2" ry="3.1" fill="#0c0c0c"/>
<rect x="336" y="438.2" width="18" height="4.4" fill="#1a1a1a"/>
<rect x="362" y="440.2" width="18" height="1.6" fill="#828282"/>
<rect x="386.8" y="439.4" width="21.4" height="3.0" rx="1.4" fill="#505050"/>
</g>
<rect x="308.6" y="447.9" width="104.6" height="19.2" fill="#f1f1f1" stroke="#8e8e8e" stroke-width="0.9"/>
<g filter="url(#bl2)" fill="#2a2a2a">
<path d="M309.7,459.4 C309.7,455.0 313.2,454.9 314.7,456.0 L327.1,456.0 C328.6,454.9 332.1,455.0 332.1,459.4 C332.1,463.8 328.6,463.9 327.1,462.8 L314.7,462.8 C313.2,463.9 309.7,463.8 309.7,459.4Z"/>
<path d="M312.4,456.3 L313.5,450.8 L314.6,456.3Z"/>
<path d="M328.8,456.3 L329.9,450.0 L331.0,456.3Z"/>
<path d="M333.5,459.4 C333.5,454.9 337.0,454.8 338.5,455.9 L353.1,455.9 C354.6,454.8 358.1,454.9 358.1,459.4 C358.1,464.0 354.6,464.1 353.1,463.0 L338.5,463.0 C337.0,464.1 333.5,464.0 333.5,459.4Z"/>
<path d="M335.6,456.2 L336.7,450.4 L337.8,456.2Z"/>
<path d="M353.6,456.2 L354.7,450.2 L355.8,456.2Z"/>
<path d="M359.5,458.7 C359.5,454.3 363.0,454.2 364.5,455.3 L378.5,455.3 C380.0,454.2 383.5,454.3 383.5,458.7 C383.5,463.1 380.0,463.2 378.5,462.1 L364.5,462.1 C363.0,463.2 359.5,463.1 359.5,458.7Z"/>
<path d="M361.4,455.6 L362.5,450.8 L363.6,455.6Z"/>
<path d="M378.7,455.6 L379.8,452.2 L380.9,455.6Z"/>
<path d="M386.0,459.4 C386.0,455.6 389.5,455.5 391.0,456.3 L406.0,456.3 C407.5,455.5 411.0,455.6 411.0,459.4 C411.0,463.1 407.5,463.2 406.0,462.4 L391.0,462.4 C389.5,463.2 386.0,463.1 386.0,459.4Z"/>
<path d="M387.3,456.9 L388.4,453.2 L389.5,456.9Z"/>
</g>
<text x="426.00" y="441.90" font-size="9.0" text-anchor="start" font-weight="normal" fill="#222"  stroke="#222" stroke-width="0.14">TAK1</text>
<text x="426.00" y="461.90" font-size="9.1" text-anchor="start" font-weight="normal" fill="#222"  stroke="#222" stroke-width="0.14">ACTIN</text>
<text x="320.60" y="482.00" font-size="9.4" text-anchor="middle" font-weight="normal" fill="#222"  stroke="#222" stroke-width="0.14">1</text>
<text x="347.20" y="482.00" font-size="9.4" text-anchor="middle" font-weight="normal" fill="#222"  stroke="#222" stroke-width="0.14">2</text>
<text x="371.60" y="482.00" font-size="9.4" text-anchor="middle" font-weight="normal" fill="#222"  stroke="#222" stroke-width="0.14">3</text>
<text x="398.20" y="482.00" font-size="9.4" text-anchor="middle" font-weight="normal" fill="#222"  stroke="#222" stroke-width="0.14">4</text>
<line x1="313.4" y1="487.2" x2="352.1" y2="487.2" stroke="#a8a8a8" stroke-width="0.9"/>
<line x1="363.5" y1="487.2" x2="405.8" y2="487.2" stroke="#a8a8a8" stroke-width="0.9"/>
<text x="331.30" y="498.20" font-size="10.7" text-anchor="middle" font-weight="normal" fill="#222"  stroke="#222" stroke-width="0.14">high</text>
<text x="384.50" y="498.20" font-size="10.7" text-anchor="middle" font-weight="normal" fill="#222"  stroke="#222" stroke-width="0.14">low</text>
<text x="362.20" y="514.30" font-size="9.1" text-anchor="middle" font-weight="normal" fill="#222"  stroke="#222" stroke-width="0.14">AML CD34+</text>
</svg>
</body></html>
